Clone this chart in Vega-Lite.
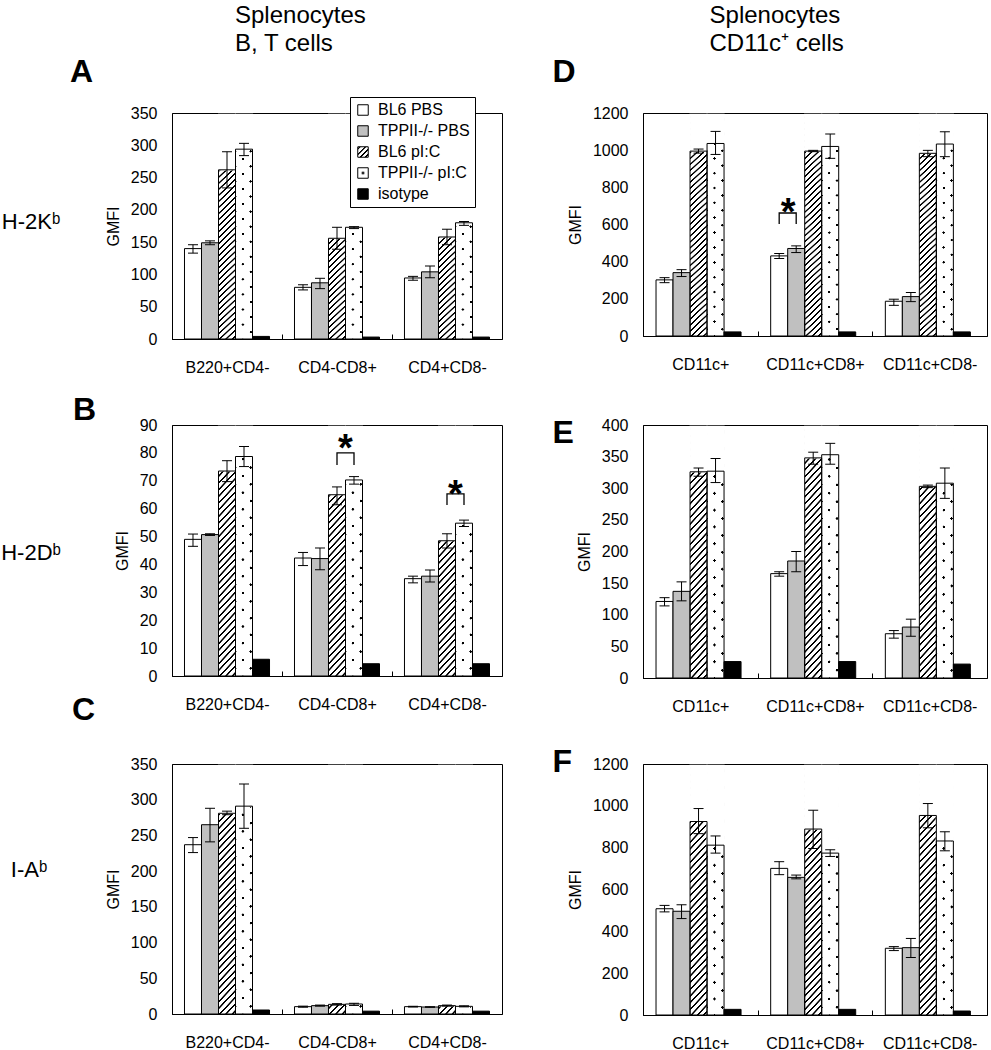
{
"$schema":"https://vega.github.io/schema/vega-lite/v6.json",
"padding":{"top":3,"left":0,"right":0,"bottom":0},
"background":"white",
"params":[
 {"name":"hatchG","value":{"gradient":"linear","x1":0,"y1":0,"x2":0.0774,"y2":1.067,"stops":[
{"offset":0.007,"color":"#fff"},{"offset":0.009,"color":"#000"},{"offset":0.015,"color":"#000"},{"offset":0.017,"color":"#fff"},
{"offset":0.032,"color":"#fff"},{"offset":0.034,"color":"#000"},{"offset":0.040,"color":"#000"},{"offset":0.042,"color":"#fff"},
{"offset":0.057,"color":"#fff"},{"offset":0.059,"color":"#000"},{"offset":0.065,"color":"#000"},{"offset":0.067,"color":"#fff"},
{"offset":0.082,"color":"#fff"},{"offset":0.084,"color":"#000"},{"offset":0.090,"color":"#000"},{"offset":0.092,"color":"#fff"},
{"offset":0.107,"color":"#fff"},{"offset":0.109,"color":"#000"},{"offset":0.115,"color":"#000"},{"offset":0.117,"color":"#fff"},
{"offset":0.132,"color":"#fff"},{"offset":0.134,"color":"#000"},{"offset":0.140,"color":"#000"},{"offset":0.142,"color":"#fff"},
{"offset":0.157,"color":"#fff"},{"offset":0.159,"color":"#000"},{"offset":0.165,"color":"#000"},{"offset":0.167,"color":"#fff"},
{"offset":0.182,"color":"#fff"},{"offset":0.184,"color":"#000"},{"offset":0.190,"color":"#000"},{"offset":0.192,"color":"#fff"},
{"offset":0.207,"color":"#fff"},{"offset":0.209,"color":"#000"},{"offset":0.215,"color":"#000"},{"offset":0.217,"color":"#fff"},
{"offset":0.232,"color":"#fff"},{"offset":0.234,"color":"#000"},{"offset":0.240,"color":"#000"},{"offset":0.242,"color":"#fff"},
{"offset":0.257,"color":"#fff"},{"offset":0.259,"color":"#000"},{"offset":0.265,"color":"#000"},{"offset":0.267,"color":"#fff"},
{"offset":0.282,"color":"#fff"},{"offset":0.284,"color":"#000"},{"offset":0.290,"color":"#000"},{"offset":0.292,"color":"#fff"},
{"offset":0.307,"color":"#fff"},{"offset":0.309,"color":"#000"},{"offset":0.315,"color":"#000"},{"offset":0.317,"color":"#fff"},
{"offset":0.332,"color":"#fff"},{"offset":0.334,"color":"#000"},{"offset":0.340,"color":"#000"},{"offset":0.342,"color":"#fff"},
{"offset":0.357,"color":"#fff"},{"offset":0.359,"color":"#000"},{"offset":0.365,"color":"#000"},{"offset":0.367,"color":"#fff"},
{"offset":0.382,"color":"#fff"},{"offset":0.384,"color":"#000"},{"offset":0.390,"color":"#000"},{"offset":0.392,"color":"#fff"},
{"offset":0.407,"color":"#fff"},{"offset":0.409,"color":"#000"},{"offset":0.415,"color":"#000"},{"offset":0.417,"color":"#fff"},
{"offset":0.432,"color":"#fff"},{"offset":0.434,"color":"#000"},{"offset":0.440,"color":"#000"},{"offset":0.442,"color":"#fff"},
{"offset":0.457,"color":"#fff"},{"offset":0.459,"color":"#000"},{"offset":0.465,"color":"#000"},{"offset":0.467,"color":"#fff"},
{"offset":0.482,"color":"#fff"},{"offset":0.484,"color":"#000"},{"offset":0.490,"color":"#000"},{"offset":0.492,"color":"#fff"},
{"offset":0.507,"color":"#fff"},{"offset":0.509,"color":"#000"},{"offset":0.515,"color":"#000"},{"offset":0.517,"color":"#fff"},
{"offset":0.532,"color":"#fff"},{"offset":0.534,"color":"#000"},{"offset":0.540,"color":"#000"},{"offset":0.542,"color":"#fff"},
{"offset":0.557,"color":"#fff"},{"offset":0.559,"color":"#000"},{"offset":0.565,"color":"#000"},{"offset":0.567,"color":"#fff"},
{"offset":0.582,"color":"#fff"},{"offset":0.584,"color":"#000"},{"offset":0.590,"color":"#000"},{"offset":0.592,"color":"#fff"},
{"offset":0.607,"color":"#fff"},{"offset":0.609,"color":"#000"},{"offset":0.615,"color":"#000"},{"offset":0.617,"color":"#fff"},
{"offset":0.632,"color":"#fff"},{"offset":0.634,"color":"#000"},{"offset":0.640,"color":"#000"},{"offset":0.642,"color":"#fff"},
{"offset":0.657,"color":"#fff"},{"offset":0.659,"color":"#000"},{"offset":0.665,"color":"#000"},{"offset":0.667,"color":"#fff"},
{"offset":0.682,"color":"#fff"},{"offset":0.684,"color":"#000"},{"offset":0.690,"color":"#000"},{"offset":0.692,"color":"#fff"},
{"offset":0.707,"color":"#fff"},{"offset":0.709,"color":"#000"},{"offset":0.715,"color":"#000"},{"offset":0.717,"color":"#fff"},
{"offset":0.732,"color":"#fff"},{"offset":0.734,"color":"#000"},{"offset":0.740,"color":"#000"},{"offset":0.742,"color":"#fff"},
{"offset":0.757,"color":"#fff"},{"offset":0.759,"color":"#000"},{"offset":0.765,"color":"#000"},{"offset":0.767,"color":"#fff"},
{"offset":0.782,"color":"#fff"},{"offset":0.784,"color":"#000"},{"offset":0.790,"color":"#000"},{"offset":0.792,"color":"#fff"},
{"offset":0.807,"color":"#fff"},{"offset":0.809,"color":"#000"},{"offset":0.815,"color":"#000"},{"offset":0.817,"color":"#fff"},
{"offset":0.832,"color":"#fff"},{"offset":0.834,"color":"#000"},{"offset":0.840,"color":"#000"},{"offset":0.842,"color":"#fff"},
{"offset":0.857,"color":"#fff"},{"offset":0.859,"color":"#000"},{"offset":0.865,"color":"#000"},{"offset":0.867,"color":"#fff"},
{"offset":0.882,"color":"#fff"},{"offset":0.884,"color":"#000"},{"offset":0.890,"color":"#000"},{"offset":0.892,"color":"#fff"},
{"offset":0.907,"color":"#fff"},{"offset":0.909,"color":"#000"},{"offset":0.915,"color":"#000"},{"offset":0.917,"color":"#fff"},
{"offset":0.932,"color":"#fff"},{"offset":0.934,"color":"#000"},{"offset":0.940,"color":"#000"},{"offset":0.942,"color":"#fff"},
{"offset":0.957,"color":"#fff"},{"offset":0.959,"color":"#000"},{"offset":0.965,"color":"#000"},{"offset":0.967,"color":"#fff"},
{"offset":0.982,"color":"#fff"},{"offset":0.984,"color":"#000"},{"offset":0.990,"color":"#000"},{"offset":0.992,"color":"#fff"}
 ]}},
 {"name":"dotAG","value":{"gradient":"linear","x1":0,"y1":0,"x2":0.0774,"y2":1.067,"stops":[
{"offset":0.02,"color":"#fff"},{"offset":0.022,"color":"#000"},{"offset":0.032,"color":"#000"},{"offset":0.034,"color":"#fff"},
{"offset":0.0825,"color":"#fff"},{"offset":0.0845,"color":"#000"},{"offset":0.0945,"color":"#000"},{"offset":0.0965,"color":"#fff"},
{"offset":0.145,"color":"#fff"},{"offset":0.147,"color":"#000"},{"offset":0.157,"color":"#000"},{"offset":0.159,"color":"#fff"},
{"offset":0.2075,"color":"#fff"},{"offset":0.2095,"color":"#000"},{"offset":0.2195,"color":"#000"},{"offset":0.2215,"color":"#fff"},
{"offset":0.27,"color":"#fff"},{"offset":0.272,"color":"#000"},{"offset":0.282,"color":"#000"},{"offset":0.284,"color":"#fff"},
{"offset":0.3325,"color":"#fff"},{"offset":0.3345,"color":"#000"},{"offset":0.3445,"color":"#000"},{"offset":0.3465,"color":"#fff"},
{"offset":0.395,"color":"#fff"},{"offset":0.397,"color":"#000"},{"offset":0.407,"color":"#000"},{"offset":0.409,"color":"#fff"},
{"offset":0.4575,"color":"#fff"},{"offset":0.4595,"color":"#000"},{"offset":0.4695,"color":"#000"},{"offset":0.4715,"color":"#fff"},
{"offset":0.52,"color":"#fff"},{"offset":0.522,"color":"#000"},{"offset":0.532,"color":"#000"},{"offset":0.534,"color":"#fff"},
{"offset":0.5825,"color":"#fff"},{"offset":0.5845,"color":"#000"},{"offset":0.5945,"color":"#000"},{"offset":0.5965,"color":"#fff"},
{"offset":0.645,"color":"#fff"},{"offset":0.647,"color":"#000"},{"offset":0.657,"color":"#000"},{"offset":0.659,"color":"#fff"},
{"offset":0.7075,"color":"#fff"},{"offset":0.7095,"color":"#000"},{"offset":0.7195,"color":"#000"},{"offset":0.7215,"color":"#fff"},
{"offset":0.77,"color":"#fff"},{"offset":0.772,"color":"#000"},{"offset":0.782,"color":"#000"},{"offset":0.784,"color":"#fff"},
{"offset":0.8325,"color":"#fff"},{"offset":0.8345,"color":"#000"},{"offset":0.8445,"color":"#000"},{"offset":0.8465,"color":"#fff"},
{"offset":0.895,"color":"#fff"},{"offset":0.897,"color":"#000"},{"offset":0.907,"color":"#000"},{"offset":0.909,"color":"#fff"},
{"offset":0.9575,"color":"#fff"},{"offset":0.9595,"color":"#000"},{"offset":0.9695,"color":"#000"},{"offset":0.9715,"color":"#fff"}
 ]}},
 {"name":"dotBG","value":{"gradient":"linear","x1":0,"y1":1,"x2":0.0774,"y2":-0.067,"stops":[
{"offset":0.02,"color":"#fff"},{"offset":0.022,"color":"rgba(255,255,255,0)"},{"offset":0.032,"color":"rgba(255,255,255,0)"},{"offset":0.034,"color":"#fff"},
{"offset":0.0825,"color":"#fff"},{"offset":0.0845,"color":"rgba(255,255,255,0)"},{"offset":0.0945,"color":"rgba(255,255,255,0)"},{"offset":0.0965,"color":"#fff"},
{"offset":0.145,"color":"#fff"},{"offset":0.147,"color":"rgba(255,255,255,0)"},{"offset":0.157,"color":"rgba(255,255,255,0)"},{"offset":0.159,"color":"#fff"},
{"offset":0.2075,"color":"#fff"},{"offset":0.2095,"color":"rgba(255,255,255,0)"},{"offset":0.2195,"color":"rgba(255,255,255,0)"},{"offset":0.2215,"color":"#fff"},
{"offset":0.27,"color":"#fff"},{"offset":0.272,"color":"rgba(255,255,255,0)"},{"offset":0.282,"color":"rgba(255,255,255,0)"},{"offset":0.284,"color":"#fff"},
{"offset":0.3325,"color":"#fff"},{"offset":0.3345,"color":"rgba(255,255,255,0)"},{"offset":0.3445,"color":"rgba(255,255,255,0)"},{"offset":0.3465,"color":"#fff"},
{"offset":0.395,"color":"#fff"},{"offset":0.397,"color":"rgba(255,255,255,0)"},{"offset":0.407,"color":"rgba(255,255,255,0)"},{"offset":0.409,"color":"#fff"},
{"offset":0.4575,"color":"#fff"},{"offset":0.4595,"color":"rgba(255,255,255,0)"},{"offset":0.4695,"color":"rgba(255,255,255,0)"},{"offset":0.4715,"color":"#fff"},
{"offset":0.52,"color":"#fff"},{"offset":0.522,"color":"rgba(255,255,255,0)"},{"offset":0.532,"color":"rgba(255,255,255,0)"},{"offset":0.534,"color":"#fff"},
{"offset":0.5825,"color":"#fff"},{"offset":0.5845,"color":"rgba(255,255,255,0)"},{"offset":0.5945,"color":"rgba(255,255,255,0)"},{"offset":0.5965,"color":"#fff"},
{"offset":0.645,"color":"#fff"},{"offset":0.647,"color":"rgba(255,255,255,0)"},{"offset":0.657,"color":"rgba(255,255,255,0)"},{"offset":0.659,"color":"#fff"},
{"offset":0.7075,"color":"#fff"},{"offset":0.7095,"color":"rgba(255,255,255,0)"},{"offset":0.7195,"color":"rgba(255,255,255,0)"},{"offset":0.7215,"color":"#fff"},
{"offset":0.77,"color":"#fff"},{"offset":0.772,"color":"rgba(255,255,255,0)"},{"offset":0.782,"color":"rgba(255,255,255,0)"},{"offset":0.784,"color":"#fff"},
{"offset":0.8325,"color":"#fff"},{"offset":0.8345,"color":"rgba(255,255,255,0)"},{"offset":0.8445,"color":"rgba(255,255,255,0)"},{"offset":0.8465,"color":"#fff"},
{"offset":0.895,"color":"#fff"},{"offset":0.897,"color":"rgba(255,255,255,0)"},{"offset":0.907,"color":"rgba(255,255,255,0)"},{"offset":0.909,"color":"#fff"},
{"offset":0.9575,"color":"#fff"},{"offset":0.9595,"color":"rgba(255,255,255,0)"},{"offset":0.9695,"color":"rgba(255,255,255,0)"},{"offset":0.9715,"color":"#fff"}
 ]}},
 {"name":"hatchS","value":{"gradient":"linear","x1":0,"y1":0,"x2":1,"y2":1,"stops":[{"offset":0.06,"color":"#fff"},{"offset":0.08,"color":"#000"},{"offset":0.15,"color":"#000"},{"offset":0.17,"color":"#fff"},{"offset":0.31,"color":"#fff"},{"offset":0.33,"color":"#000"},{"offset":0.4,"color":"#000"},{"offset":0.42,"color":"#fff"},{"offset":0.56,"color":"#fff"},{"offset":0.58,"color":"#000"},{"offset":0.65,"color":"#000"},{"offset":0.67,"color":"#fff"},{"offset":0.81,"color":"#fff"},{"offset":0.83,"color":"#000"},{"offset":0.9,"color":"#000"},{"offset":0.92,"color":"#fff"}]}},
 {"name":"dotS","value":{"gradient":"radial","x1":0.5,"y1":0.5,"r1":0,"x2":0.5,"y2":0.5,"r2":0.5,"stops":[{"offset":0,"color":"#000"},{"offset":0.2,"color":"#000"},{"offset":0.3,"color":"#fff"},{"offset":1,"color":"#fff"}]}}
],
"config":{
 "font":"Liberation Sans",
 "view":{"stroke":"#000","strokeWidth":1},
 "axis":{"grid":false,"domainColor":"#000","domainWidth":1,"labelColor":"#000","labelFont":"Liberation Sans","titleFont":"Liberation Sans","titleColor":"#000","titleFontWeight":"normal","tickColor":"#000","tickWidth":1},
 "axisY":{"ticks":false,"labelFontSize":16,"labelPadding":15,"titleFontSize":16,"titlePadding":9,"format":"d"},
 "axisX":{"labelAngle":0,"labelFontSize":16,"labelPadding":25,"tickSize":-5},
 "legend":{"labelFont":"Liberation Sans"}
},
"datasets":{
 "A":[
  {"group":"B220+CD4-","cond":"BL6 PBS","value":140,"lo":133,"hi":146},
  {"group":"B220+CD4-","cond":"TPPII-/- PBS","value":149,"lo":146,"hi":152},
  {"group":"B220+CD4-","cond":"BL6 pI:C","value":262,"lo":234,"hi":290},
  {"group":"B220+CD4-","cond":"TPPII-/- pI:C","value":294,"lo":284,"hi":303},
  {"group":"B220+CD4-","cond":"isotype","value":4},
  {"group":"CD4-CD8+","cond":"BL6 PBS","value":80,"lo":76,"hi":84},
  {"group":"CD4-CD8+","cond":"TPPII-/- PBS","value":87,"lo":78,"hi":94},
  {"group":"CD4-CD8+","cond":"BL6 pI:C","value":156,"lo":139,"hi":173},
  {"group":"CD4-CD8+","cond":"TPPII-/- pI:C","value":173,"lo":171,"hi":174},
  {"group":"CD4-CD8+","cond":"isotype","value":3},
  {"group":"CD4+CD8-","cond":"BL6 PBS","value":94.5,"lo":91,"hi":97},
  {"group":"CD4+CD8-","cond":"TPPII-/- PBS","value":104,"lo":95,"hi":113},
  {"group":"CD4+CD8-","cond":"BL6 pI:C","value":158,"lo":146,"hi":170},
  {"group":"CD4+CD8-","cond":"TPPII-/- pI:C","value":180,"lo":176,"hi":182},
  {"group":"CD4+CD8-","cond":"isotype","value":3}
 ],
 "B":[
  {"group":"B220+CD4-","cond":"BL6 PBS","value":49,"lo":46.5,"hi":50.9},
  {"group":"B220+CD4-","cond":"TPPII-/- PBS","value":50.7,"lo":50.4,"hi":51},
  {"group":"B220+CD4-","cond":"BL6 pI:C","value":73.5,"lo":69.7,"hi":77.2},
  {"group":"B220+CD4-","cond":"TPPII-/- pI:C","value":78.7,"lo":75.1,"hi":82.3},
  {"group":"B220+CD4-","cond":"isotype","value":6},
  {"group":"CD4-CD8+","cond":"BL6 PBS","value":42.3,"lo":39.6,"hi":44.3},
  {"group":"CD4-CD8+","cond":"TPPII-/- PBS","value":42.1,"lo":38.1,"hi":45.9},
  {"group":"CD4-CD8+","cond":"BL6 pI:C","value":65,"lo":61.4,"hi":67.8},
  {"group":"CD4-CD8+","cond":"TPPII-/- pI:C","value":70.3,"lo":68.8,"hi":71.5},
  {"group":"CD4-CD8+","cond":"isotype","value":4.4},
  {"group":"CD4+CD8-","cond":"BL6 PBS","value":34.9,"lo":33.4,"hi":35.8},
  {"group":"CD4+CD8-","cond":"TPPII-/- PBS","value":35.8,"lo":33.7,"hi":38},
  {"group":"CD4+CD8-","cond":"BL6 pI:C","value":48.5,"lo":45.9,"hi":51},
  {"group":"CD4+CD8-","cond":"TPPII-/- pI:C","value":54.8,"lo":53.6,"hi":55.9},
  {"group":"CD4+CD8-","cond":"isotype","value":4.4}
 ],
 "C":[
  {"group":"B220+CD4-","cond":"BL6 PBS","value":237,"lo":226,"hi":247},
  {"group":"B220+CD4-","cond":"TPPII-/- PBS","value":265,"lo":241,"hi":288},
  {"group":"B220+CD4-","cond":"BL6 pI:C","value":281,"lo":279,"hi":284},
  {"group":"B220+CD4-","cond":"TPPII-/- pI:C","value":291,"lo":260,"hi":322},
  {"group":"B220+CD4-","cond":"isotype","value":5.6},
  {"group":"CD4-CD8+","cond":"BL6 PBS","value":10.3,"lo":9.5,"hi":11},
  {"group":"CD4-CD8+","cond":"TPPII-/- PBS","value":11.7,"lo":11,"hi":12.5},
  {"group":"CD4-CD8+","cond":"BL6 pI:C","value":13.5,"lo":12.5,"hi":14.5},
  {"group":"CD4-CD8+","cond":"TPPII-/- pI:C","value":14,"lo":12,"hi":15},
  {"group":"CD4-CD8+","cond":"isotype","value":4},
  {"group":"CD4+CD8-","cond":"BL6 PBS","value":10.3,"lo":9.8,"hi":10.8},
  {"group":"CD4+CD8-","cond":"TPPII-/- PBS","value":9.8,"lo":9.3,"hi":10.3},
  {"group":"CD4+CD8-","cond":"BL6 pI:C","value":11.7,"lo":11,"hi":12.5},
  {"group":"CD4+CD8-","cond":"TPPII-/- pI:C","value":10.7,"lo":10,"hi":11.5},
  {"group":"CD4+CD8-","cond":"isotype","value":4}
 ],
 "D":[
  {"group":"CD11c+","cond":"BL6 PBS","value":302,"lo":287,"hi":314},
  {"group":"CD11c+","cond":"TPPII-/- PBS","value":341,"lo":320,"hi":357},
  {"group":"CD11c+","cond":"BL6 pI:C","value":995,"lo":984,"hi":1006},
  {"group":"CD11c+","cond":"TPPII-/- pI:C","value":1036,"lo":977,"hi":1101},
  {"group":"CD11c+","cond":"isotype","value":22},
  {"group":"CD11c+CD8+","cond":"BL6 PBS","value":431,"lo":417,"hi":444},
  {"group":"CD11c+CD8+","cond":"TPPII-/- PBS","value":471,"lo":449,"hi":485},
  {"group":"CD11c+CD8+","cond":"BL6 pI:C","value":995,"lo":992,"hi":999},
  {"group":"CD11c+CD8+","cond":"TPPII-/- pI:C","value":1020,"lo":956,"hi":1087},
  {"group":"CD11c+CD8+","cond":"isotype","value":22},
  {"group":"CD11c+CD8-","cond":"BL6 PBS","value":187,"lo":165,"hi":198},
  {"group":"CD11c+CD8-","cond":"TPPII-/- PBS","value":212,"lo":185,"hi":234},
  {"group":"CD11c+CD8-","cond":"BL6 pI:C","value":983,"lo":965,"hi":999},
  {"group":"CD11c+CD8-","cond":"TPPII-/- pI:C","value":1033,"lo":965,"hi":1099},
  {"group":"CD11c+CD8-","cond":"isotype","value":22}
 ],
 "E":[
  {"group":"CD11c+","cond":"BL6 PBS","value":121,"lo":114,"hi":127},
  {"group":"CD11c+","cond":"TPPII-/- PBS","value":137,"lo":122,"hi":152},
  {"group":"CD11c+","cond":"BL6 pI:C","value":326,"lo":319,"hi":332},
  {"group":"CD11c+","cond":"TPPII-/- pI:C","value":327,"lo":309,"hi":347},
  {"group":"CD11c+","cond":"isotype","value":26},
  {"group":"CD11c+CD8+","cond":"BL6 PBS","value":165,"lo":161,"hi":168},
  {"group":"CD11c+CD8+","cond":"TPPII-/- PBS","value":185,"lo":168,"hi":200},
  {"group":"CD11c+CD8+","cond":"BL6 pI:C","value":348,"lo":338,"hi":357},
  {"group":"CD11c+CD8+","cond":"TPPII-/- pI:C","value":353,"lo":338,"hi":371},
  {"group":"CD11c+CD8+","cond":"isotype","value":26},
  {"group":"CD11c+CD8-","cond":"BL6 PBS","value":70,"lo":63,"hi":75},
  {"group":"CD11c+CD8-","cond":"TPPII-/- PBS","value":80.5,"lo":66,"hi":93},
  {"group":"CD11c+CD8-","cond":"BL6 pI:C","value":303,"lo":301,"hi":305},
  {"group":"CD11c+CD8-","cond":"TPPII-/- pI:C","value":308,"lo":284,"hi":332},
  {"group":"CD11c+CD8-","cond":"isotype","value":22}
 ],
 "F":[
  {"group":"CD11c+","cond":"BL6 PBS","value":508,"lo":493,"hi":524},
  {"group":"CD11c+","cond":"TPPII-/- PBS","value":496,"lo":461,"hi":527},
  {"group":"CD11c+","cond":"BL6 pI:C","value":925,"lo":867,"hi":987},
  {"group":"CD11c+","cond":"TPPII-/- pI:C","value":812,"lo":774,"hi":856},
  {"group":"CD11c+","cond":"isotype","value":27},
  {"group":"CD11c+CD8+","cond":"BL6 PBS","value":701,"lo":671,"hi":733},
  {"group":"CD11c+CD8+","cond":"TPPII-/- PBS","value":658,"lo":651,"hi":669},
  {"group":"CD11c+CD8+","cond":"BL6 pI:C","value":889,"lo":796,"hi":979},
  {"group":"CD11c+CD8+","cond":"TPPII-/- pI:C","value":774,"lo":758,"hi":790},
  {"group":"CD11c+CD8+","cond":"isotype","value":27},
  {"group":"CD11c+CD8-","cond":"BL6 PBS","value":319,"lo":308,"hi":327},
  {"group":"CD11c+CD8-","cond":"TPPII-/- PBS","value":322,"lo":275,"hi":366},
  {"group":"CD11c+CD8-","cond":"BL6 pI:C","value":954,"lo":895,"hi":1011},
  {"group":"CD11c+CD8-","cond":"TPPII-/- pI:C","value":832,"lo":785,"hi":876},
  {"group":"CD11c+CD8-","cond":"isotype","value":19}
 ],
 "Bbr":[
  {"id":"b1","group":"CD4-CD8+","cond":"BL6 pI:C","y":75.7,"ord":1},
  {"id":"b1","group":"CD4-CD8+","cond":"BL6 pI:C","y":80,"ord":2},
  {"id":"b1","group":"CD4-CD8+","cond":"TPPII-/- pI:C","y":80,"ord":3},
  {"id":"b1","group":"CD4-CD8+","cond":"TPPII-/- pI:C","y":75.7,"ord":4},
  {"id":"b2","group":"CD4+CD8-","cond":"BL6 pI:C","y":61.3,"ord":1},
  {"id":"b2","group":"CD4+CD8-","cond":"BL6 pI:C","y":65.3,"ord":2},
  {"id":"b2","group":"CD4+CD8-","cond":"TPPII-/- pI:C","y":65.3,"ord":3},
  {"id":"b2","group":"CD4+CD8-","cond":"TPPII-/- pI:C","y":61.3,"ord":4}
 ],
 "Bst":[
  {"group":"CD4-CD8+","cond":"BL6 pI:C","y":84.6},
  {"group":"CD4+CD8-","cond":"BL6 pI:C","y":68.1}
 ],
 "Dbr":[
  {"id":"d1","group":"CD11c+CD8+","cond":"BL6 PBS","y":603,"ord":1},
  {"id":"d1","group":"CD11c+CD8+","cond":"BL6 PBS","y":662,"ord":2},
  {"id":"d1","group":"CD11c+CD8+","cond":"TPPII-/- PBS","y":662,"ord":3},
  {"id":"d1","group":"CD11c+CD8+","cond":"TPPII-/- PBS","y":603,"ord":4}
 ],
 "Dst":[
  {"group":"CD11c+CD8+","cond":"BL6 PBS","y":710}
 ]
},
"columns":2,
"spacing":{"row":86,"column":141},
"bounds":"flush",
"resolve":{"scale":{"fill":"independent"}},
"concat":[
 {"width":330,"height":226,"data":{"name":"A"},
  "encoding":{
   "x":{"field":"group","type":"nominal","sort":["B220+CD4-","CD4-CD8+","CD4+CD8-"],"scale":{"paddingInner":0.227,"paddingOuter":0.1136},"axis":{"tickOffset":-55,"labelOffset":55},"title":null},
   "xOffset":{"field":"cond","type":"nominal","sort":null,"scale":{"domain":["BL6 PBS","TPPII-/- PBS","BL6 pI:C","TPPII-/- pI:C","isotype"],"paddingInner":0,"paddingOuter":0}}
  },
  "layer":[
   {"transform":[{"filter":"datum.cond === 'BL6 pI:C'"}],"mark":{"type":"bar","fill":{"expr":"hatchG"},"opacity":1},"encoding":{"y":{"datum":348,"type":"quantitative","scale":{"domain":[0,350],"nice":false},"title":"GMFI"},"y2":{"datum":0}}},
   {"transform":[{"filter":"datum.cond === 'TPPII-/- pI:C'"}],"mark":{"type":"bar","fill":{"expr":"dotAG"},"opacity":1},"encoding":{"y":{"datum":348,"type":"quantitative","scale":{"domain":[0,350],"nice":false},"title":"GMFI"},"y2":{"datum":0}}},
   {"transform":[{"filter":"datum.cond === 'TPPII-/- pI:C'"}],"mark":{"type":"bar","fill":{"expr":"dotBG"},"opacity":1},"encoding":{"y":{"datum":348,"type":"quantitative","scale":{"domain":[0,350],"nice":false},"title":"GMFI"},"y2":{"datum":0}}},
   {"transform":[{"filter":"datum.cond === 'BL6 pI:C' || datum.cond === 'TPPII-/- pI:C'"}],"mark":{"type":"bar","fill":"#fff","stroke":"#fff","strokeWidth":1.2,"opacity":1},"encoding":{"y":{"field":"value","type":"quantitative","scale":{"domain":[0,350],"nice":false},"title":"GMFI"},"y2":{"datum":348}}},
   {"transform":[{"filter":"datum.cond !== 'BL6 pI:C' && datum.cond !== 'TPPII-/- pI:C'"}],"mark":{"type":"bar","stroke":"#000","strokeWidth":1,"opacity":1},"encoding":{"y":{"field":"value","type":"quantitative","stack":null,"scale":{"domain":[0,350],"nice":false},"title":"GMFI","axis":{"tickCount":7}},
     "fill":{"field":"cond","type":"nominal","scale":{"domain":["BL6 PBS","TPPII-/- PBS","BL6 pI:C","TPPII-/- pI:C","isotype"],"range":["#fff","#c0c0c0",{"expr":"hatchS"},{"expr":"dotS"},"#000"]},
       "legend":{"orient":"none","legendX":178,"legendY":-16,"title":null,"symbolType":"square","symbolSize":110,"symbolStrokeColor":"#000","symbolStrokeWidth":1,"symbolOpacity":1,"labelFontSize":16,"labelColor":"#000","labelOffset":7,"rowPadding":5,"padding":5,"strokeColor":"#000","fillColor":"#fff"}}}},
   {"transform":[{"filter":"datum.cond === 'BL6 pI:C' || datum.cond === 'TPPII-/- pI:C'"}],"mark":{"type":"bar","fill":"transparent","stroke":"#000","strokeWidth":1,"opacity":1},"encoding":{"y":{"field":"value","type":"quantitative","stack":null,"scale":{"domain":[0,350],"nice":false},"title":"GMFI"}}},
   {"transform":[{"filter":"datum.cond !== 'isotype'"}],"mark":{"type":"rule","color":"#000","strokeWidth":1,"opacity":1},"encoding":{"y":{"field":"lo","type":"quantitative","scale":{"domain":[0,350],"nice":false},"title":"GMFI"},"y2":{"field":"hi"}}},
   {"transform":[{"filter":"datum.cond !== 'isotype'"}],"mark":{"type":"tick","color":"#000","thickness":1,"size":10,"opacity":1},"encoding":{"y":{"field":"lo","type":"quantitative","scale":{"domain":[0,350],"nice":false},"title":"GMFI"}}},
   {"transform":[{"filter":"datum.cond !== 'isotype'"}],"mark":{"type":"tick","color":"#000","thickness":1,"size":10,"opacity":1},"encoding":{"y":{"field":"hi","type":"quantitative","scale":{"domain":[0,350],"nice":false},"title":"GMFI"}}},
   {"data":{"values":[{}]},"mark":{"type":"text","text":"A","fontSize":32,"fontWeight":"bold","align":"left","baseline":"alphabetic","dx":-123,"dy":-31,"color":"#000"},"encoding":{"x":{"datum":"B220+CD4-","type":"nominal"},"xOffset":{"datum":"BL6 PBS","type":"nominal"},"y":{"datum":350,"type":"quantitative","scale":{"domain":[0,350],"nice":false},"title":"GMFI"}}},
   {"data":{"values":[{}]},"mark":{"type":"text","text":["Splenocytes","B, T cells"],"fontSize":24,"lineHeight":28,"align":"left","baseline":"alphabetic","dx":42,"dy":-90,"color":"#000"},"encoding":{"x":{"datum":"B220+CD4-","type":"nominal"},"xOffset":{"datum":"BL6 PBS","type":"nominal"},"y":{"datum":350,"type":"quantitative","scale":{"domain":[0,350],"nice":false},"title":"GMFI"}}},
   {"data":{"values":[{}]},"mark":{"type":"text","text":"H-2Kᵇ","fontSize":22,"align":"center","baseline":"middle","dx":-162,"dy":-4,"color":"#000"},"encoding":{"x":{"datum":"B220+CD4-","type":"nominal"},"xOffset":{"datum":"BL6 PBS","type":"nominal"},"y":{"datum":175,"type":"quantitative","scale":{"domain":[0,350],"nice":false},"title":"GMFI"}}}
  ]},
 {"width":344,"height":223,"data":{"name":"D"},
  "encoding":{
   "x":{"field":"group","type":"nominal","sort":["CD11c+","CD11c+CD8+","CD11c+CD8-"],"scale":{"paddingInner":0.227,"paddingOuter":0.1136},"axis":{"tickOffset":-57.33,"labelOffset":57.33},"title":null},
   "xOffset":{"field":"cond","type":"nominal","sort":null,"scale":{"domain":["BL6 PBS","TPPII-/- PBS","BL6 pI:C","TPPII-/- pI:C","isotype"],"paddingInner":0,"paddingOuter":0}}
  },
  "layer":[
   {"transform":[{"filter":"datum.cond === 'BL6 pI:C'"}],"mark":{"type":"bar","fill":{"expr":"hatchG"},"opacity":1},"encoding":{"y":{"datum":1193,"type":"quantitative","scale":{"domain":[0,1200],"nice":false},"title":"GMFI"},"y2":{"datum":0}}},
   {"transform":[{"filter":"datum.cond === 'TPPII-/- pI:C'"}],"mark":{"type":"bar","fill":{"expr":"dotAG"},"opacity":1},"encoding":{"y":{"datum":1193,"type":"quantitative","scale":{"domain":[0,1200],"nice":false},"title":"GMFI"},"y2":{"datum":0}}},
   {"transform":[{"filter":"datum.cond === 'TPPII-/- pI:C'"}],"mark":{"type":"bar","fill":{"expr":"dotBG"},"opacity":1},"encoding":{"y":{"datum":1193,"type":"quantitative","scale":{"domain":[0,1200],"nice":false},"title":"GMFI"},"y2":{"datum":0}}},
   {"transform":[{"filter":"datum.cond === 'BL6 pI:C' || datum.cond === 'TPPII-/- pI:C'"}],"mark":{"type":"bar","fill":"#fff","stroke":"#fff","strokeWidth":1.2,"opacity":1},"encoding":{"y":{"field":"value","type":"quantitative","scale":{"domain":[0,1200],"nice":false},"title":"GMFI"},"y2":{"datum":1193}}},
   {"mark":{"type":"bar","stroke":"#000","strokeWidth":1,"opacity":1},"encoding":{"y":{"field":"value","type":"quantitative","stack":null,"scale":{"domain":[0,1200],"nice":false},"title":"GMFI","axis":{"tickCount":6}},
     "fill":{"field":"cond","type":"nominal","scale":{"domain":["BL6 PBS","TPPII-/- PBS","BL6 pI:C","TPPII-/- pI:C","isotype"],"range":["#fff","#c0c0c0","transparent","transparent","#000"]},"legend":null}}},
   {"transform":[{"filter":"datum.cond !== 'isotype'"}],"mark":{"type":"rule","color":"#000","strokeWidth":1,"opacity":1},"encoding":{"y":{"field":"lo","type":"quantitative","scale":{"domain":[0,1200],"nice":false},"title":"GMFI"},"y2":{"field":"hi"}}},
   {"transform":[{"filter":"datum.cond !== 'isotype'"}],"mark":{"type":"tick","color":"#000","thickness":1,"size":10,"opacity":1},"encoding":{"y":{"field":"lo","type":"quantitative","scale":{"domain":[0,1200],"nice":false},"title":"GMFI"}}},
   {"transform":[{"filter":"datum.cond !== 'isotype'"}],"mark":{"type":"tick","color":"#000","thickness":1,"size":10,"opacity":1},"encoding":{"y":{"field":"hi","type":"quantitative","scale":{"domain":[0,1200],"nice":false},"title":"GMFI"}}},
   {"data":{"name":"Dbr"},"mark":{"type":"line","color":"#000","strokeWidth":1.3,"opacity":1},"encoding":{"y":{"field":"y","type":"quantitative","scale":{"domain":[0,1200],"nice":false},"title":"GMFI"},"order":{"field":"ord","type":"quantitative"},"detail":{"field":"id","type":"nominal"}}},
   {"data":{"name":"Dst"},"mark":{"type":"text","text":"*","fontSize":38,"fontWeight":"bold","dx":8.86,"dy":21,"baseline":"alphabetic","color":"#000","opacity":1},"encoding":{"y":{"field":"y","type":"quantitative","scale":{"domain":[0,1200],"nice":false},"title":"GMFI"}}},
   {"data":{"values":[{}]},"mark":{"type":"text","text":"D","fontSize":32,"fontWeight":"bold","align":"left","baseline":"alphabetic","dx":-112,"dy":-31,"color":"#000"},"encoding":{"x":{"datum":"CD11c+","type":"nominal"},"xOffset":{"datum":"BL6 PBS","type":"nominal"},"y":{"datum":1200,"type":"quantitative","scale":{"domain":[0,1200],"nice":false},"title":"GMFI"}}},
   {"data":{"values":[{}]},"mark":{"type":"text","text":["Splenocytes","CD11c⁺ cells"],"fontSize":24,"lineHeight":28,"align":"left","baseline":"alphabetic","dx":45,"dy":-90,"color":"#000"},"encoding":{"x":{"datum":"CD11c+","type":"nominal"},"xOffset":{"datum":"BL6 PBS","type":"nominal"},"y":{"datum":1200,"type":"quantitative","scale":{"domain":[0,1200],"nice":false},"title":"GMFI"}}}
  ]},
 {"width":330,"height":251,"data":{"name":"B"},
  "encoding":{
   "x":{"field":"group","type":"nominal","sort":["B220+CD4-","CD4-CD8+","CD4+CD8-"],"scale":{"paddingInner":0.227,"paddingOuter":0.1136},"axis":{"tickOffset":-55,"labelOffset":55},"title":null},
   "xOffset":{"field":"cond","type":"nominal","sort":null,"scale":{"domain":["BL6 PBS","TPPII-/- PBS","BL6 pI:C","TPPII-/- pI:C","isotype"],"paddingInner":0,"paddingOuter":0}}
  },
  "layer":[
   {"transform":[{"filter":"datum.cond === 'BL6 pI:C'"}],"mark":{"type":"bar","fill":{"expr":"hatchG"},"opacity":1},"encoding":{"y":{"datum":89.5,"type":"quantitative","scale":{"domain":[0,90],"nice":false},"title":"GMFI"},"y2":{"datum":0}}},
   {"transform":[{"filter":"datum.cond === 'TPPII-/- pI:C'"}],"mark":{"type":"bar","fill":{"expr":"dotAG"},"opacity":1},"encoding":{"y":{"datum":89.5,"type":"quantitative","scale":{"domain":[0,90],"nice":false},"title":"GMFI"},"y2":{"datum":0}}},
   {"transform":[{"filter":"datum.cond === 'TPPII-/- pI:C'"}],"mark":{"type":"bar","fill":{"expr":"dotBG"},"opacity":1},"encoding":{"y":{"datum":89.5,"type":"quantitative","scale":{"domain":[0,90],"nice":false},"title":"GMFI"},"y2":{"datum":0}}},
   {"transform":[{"filter":"datum.cond === 'BL6 pI:C' || datum.cond === 'TPPII-/- pI:C'"}],"mark":{"type":"bar","fill":"#fff","stroke":"#fff","strokeWidth":1.2,"opacity":1},"encoding":{"y":{"field":"value","type":"quantitative","scale":{"domain":[0,90],"nice":false},"title":"GMFI"},"y2":{"datum":89.5}}},
   {"mark":{"type":"bar","stroke":"#000","strokeWidth":1,"opacity":1},"encoding":{"y":{"field":"value","type":"quantitative","stack":null,"scale":{"domain":[0,90],"nice":false},"title":"GMFI","axis":{"tickCount":9}},
     "fill":{"field":"cond","type":"nominal","scale":{"domain":["BL6 PBS","TPPII-/- PBS","BL6 pI:C","TPPII-/- pI:C","isotype"],"range":["#fff","#c0c0c0","transparent","transparent","#000"]},"legend":null}}},
   {"transform":[{"filter":"datum.cond !== 'isotype'"}],"mark":{"type":"rule","color":"#000","strokeWidth":1,"opacity":1},"encoding":{"y":{"field":"lo","type":"quantitative","scale":{"domain":[0,90],"nice":false},"title":"GMFI"},"y2":{"field":"hi"}}},
   {"transform":[{"filter":"datum.cond !== 'isotype'"}],"mark":{"type":"tick","color":"#000","thickness":1,"size":10,"opacity":1},"encoding":{"y":{"field":"lo","type":"quantitative","scale":{"domain":[0,90],"nice":false},"title":"GMFI"}}},
   {"transform":[{"filter":"datum.cond !== 'isotype'"}],"mark":{"type":"tick","color":"#000","thickness":1,"size":10,"opacity":1},"encoding":{"y":{"field":"hi","type":"quantitative","scale":{"domain":[0,90],"nice":false},"title":"GMFI"}}},
   {"data":{"name":"Bbr"},"mark":{"type":"line","color":"#000","strokeWidth":1.3,"opacity":1},"encoding":{"y":{"field":"y","type":"quantitative","scale":{"domain":[0,90],"nice":false},"title":"GMFI"},"order":{"field":"ord","type":"quantitative"},"detail":{"field":"id","type":"nominal"}}},
   {"data":{"name":"Bst"},"mark":{"type":"text","text":"*","fontSize":38,"fontWeight":"bold","dx":8.5,"dy":21,"baseline":"alphabetic","color":"#000","opacity":1},"encoding":{"y":{"field":"y","type":"quantitative","scale":{"domain":[0,90],"nice":false},"title":"GMFI"}}},
   {"data":{"values":[{}]},"mark":{"type":"text","text":"B","fontSize":32,"fontWeight":"bold","align":"left","baseline":"alphabetic","dx":-120,"dy":-5,"color":"#000"},"encoding":{"x":{"datum":"B220+CD4-","type":"nominal"},"xOffset":{"datum":"BL6 PBS","type":"nominal"},"y":{"datum":90,"type":"quantitative","scale":{"domain":[0,90],"nice":false},"title":"GMFI"}}},
   {"data":{"values":[{}]},"mark":{"type":"text","text":"H-2Dᵇ","fontSize":22,"align":"center","baseline":"middle","dx":-162,"dy":2,"color":"#000"},"encoding":{"x":{"datum":"B220+CD4-","type":"nominal"},"xOffset":{"datum":"BL6 PBS","type":"nominal"},"y":{"datum":45,"type":"quantitative","scale":{"domain":[0,90],"nice":false},"title":"GMFI"}}}
  ]},
 {"width":344,"height":253,"data":{"name":"E"},
  "encoding":{
   "x":{"field":"group","type":"nominal","sort":["CD11c+","CD11c+CD8+","CD11c+CD8-"],"scale":{"paddingInner":0.227,"paddingOuter":0.1136},"axis":{"tickOffset":-57.33,"labelOffset":57.33},"title":null},
   "xOffset":{"field":"cond","type":"nominal","sort":null,"scale":{"domain":["BL6 PBS","TPPII-/- PBS","BL6 pI:C","TPPII-/- pI:C","isotype"],"paddingInner":0,"paddingOuter":0}}
  },
  "layer":[
   {"transform":[{"filter":"datum.cond === 'BL6 pI:C'"}],"mark":{"type":"bar","fill":{"expr":"hatchG"},"opacity":1},"encoding":{"y":{"datum":397.7,"type":"quantitative","scale":{"domain":[0,400],"nice":false},"title":"GMFI"},"y2":{"datum":0}}},
   {"transform":[{"filter":"datum.cond === 'TPPII-/- pI:C'"}],"mark":{"type":"bar","fill":{"expr":"dotAG"},"opacity":1},"encoding":{"y":{"datum":397.7,"type":"quantitative","scale":{"domain":[0,400],"nice":false},"title":"GMFI"},"y2":{"datum":0}}},
   {"transform":[{"filter":"datum.cond === 'TPPII-/- pI:C'"}],"mark":{"type":"bar","fill":{"expr":"dotBG"},"opacity":1},"encoding":{"y":{"datum":397.7,"type":"quantitative","scale":{"domain":[0,400],"nice":false},"title":"GMFI"},"y2":{"datum":0}}},
   {"transform":[{"filter":"datum.cond === 'BL6 pI:C' || datum.cond === 'TPPII-/- pI:C'"}],"mark":{"type":"bar","fill":"#fff","stroke":"#fff","strokeWidth":1.2,"opacity":1},"encoding":{"y":{"field":"value","type":"quantitative","scale":{"domain":[0,400],"nice":false},"title":"GMFI"},"y2":{"datum":397.7}}},
   {"mark":{"type":"bar","stroke":"#000","strokeWidth":1,"opacity":1},"encoding":{"y":{"field":"value","type":"quantitative","stack":null,"scale":{"domain":[0,400],"nice":false},"title":"GMFI","axis":{"tickCount":8}},
     "fill":{"field":"cond","type":"nominal","scale":{"domain":["BL6 PBS","TPPII-/- PBS","BL6 pI:C","TPPII-/- pI:C","isotype"],"range":["#fff","#c0c0c0","transparent","transparent","#000"]},"legend":null}}},
   {"transform":[{"filter":"datum.cond !== 'isotype'"}],"mark":{"type":"rule","color":"#000","strokeWidth":1,"opacity":1},"encoding":{"y":{"field":"lo","type":"quantitative","scale":{"domain":[0,400],"nice":false},"title":"GMFI"},"y2":{"field":"hi"}}},
   {"transform":[{"filter":"datum.cond !== 'isotype'"}],"mark":{"type":"tick","color":"#000","thickness":1,"size":10,"opacity":1},"encoding":{"y":{"field":"lo","type":"quantitative","scale":{"domain":[0,400],"nice":false},"title":"GMFI"}}},
   {"transform":[{"filter":"datum.cond !== 'isotype'"}],"mark":{"type":"tick","color":"#000","thickness":1,"size":10,"opacity":1},"encoding":{"y":{"field":"hi","type":"quantitative","scale":{"domain":[0,400],"nice":false},"title":"GMFI"}}},
   {"data":{"values":[{}]},"mark":{"type":"text","text":"E","fontSize":32,"fontWeight":"bold","align":"left","baseline":"alphabetic","dx":-112,"dy":18,"color":"#000"},"encoding":{"x":{"datum":"CD11c+","type":"nominal"},"xOffset":{"datum":"BL6 PBS","type":"nominal"},"y":{"datum":400,"type":"quantitative","scale":{"domain":[0,400],"nice":false},"title":"GMFI"}}}
  ]},
 {"width":330,"height":250,"data":{"name":"C"},
  "encoding":{
   "x":{"field":"group","type":"nominal","sort":["B220+CD4-","CD4-CD8+","CD4+CD8-"],"scale":{"paddingInner":0.227,"paddingOuter":0.1136},"axis":{"tickOffset":-55,"labelOffset":55},"title":null},
   "xOffset":{"field":"cond","type":"nominal","sort":null,"scale":{"domain":["BL6 PBS","TPPII-/- PBS","BL6 pI:C","TPPII-/- pI:C","isotype"],"paddingInner":0,"paddingOuter":0}}
  },
  "layer":[
   {"transform":[{"filter":"datum.cond === 'BL6 pI:C'"}],"mark":{"type":"bar","fill":{"expr":"hatchG"},"opacity":1},"encoding":{"y":{"datum":348,"type":"quantitative","scale":{"domain":[0,350],"nice":false},"title":"GMFI"},"y2":{"datum":0}}},
   {"transform":[{"filter":"datum.cond === 'TPPII-/- pI:C'"}],"mark":{"type":"bar","fill":{"expr":"dotAG"},"opacity":1},"encoding":{"y":{"datum":348,"type":"quantitative","scale":{"domain":[0,350],"nice":false},"title":"GMFI"},"y2":{"datum":0}}},
   {"transform":[{"filter":"datum.cond === 'TPPII-/- pI:C'"}],"mark":{"type":"bar","fill":{"expr":"dotBG"},"opacity":1},"encoding":{"y":{"datum":348,"type":"quantitative","scale":{"domain":[0,350],"nice":false},"title":"GMFI"},"y2":{"datum":0}}},
   {"transform":[{"filter":"datum.cond === 'BL6 pI:C' || datum.cond === 'TPPII-/- pI:C'"}],"mark":{"type":"bar","fill":"#fff","stroke":"#fff","strokeWidth":1.2,"opacity":1},"encoding":{"y":{"field":"value","type":"quantitative","scale":{"domain":[0,350],"nice":false},"title":"GMFI"},"y2":{"datum":348}}},
   {"mark":{"type":"bar","stroke":"#000","strokeWidth":1,"opacity":1},"encoding":{"y":{"field":"value","type":"quantitative","stack":null,"scale":{"domain":[0,350],"nice":false},"title":"GMFI","axis":{"tickCount":7}},
     "fill":{"field":"cond","type":"nominal","scale":{"domain":["BL6 PBS","TPPII-/- PBS","BL6 pI:C","TPPII-/- pI:C","isotype"],"range":["#fff","#c0c0c0","transparent","transparent","#000"]},"legend":null}}},
   {"transform":[{"filter":"datum.cond !== 'isotype'"}],"mark":{"type":"rule","color":"#000","strokeWidth":1,"opacity":1},"encoding":{"y":{"field":"lo","type":"quantitative","scale":{"domain":[0,350],"nice":false},"title":"GMFI"},"y2":{"field":"hi"}}},
   {"transform":[{"filter":"datum.cond !== 'isotype'"}],"mark":{"type":"tick","color":"#000","thickness":1,"size":10,"opacity":1},"encoding":{"y":{"field":"lo","type":"quantitative","scale":{"domain":[0,350],"nice":false},"title":"GMFI"}}},
   {"transform":[{"filter":"datum.cond !== 'isotype'"}],"mark":{"type":"tick","color":"#000","thickness":1,"size":10,"opacity":1},"encoding":{"y":{"field":"hi","type":"quantitative","scale":{"domain":[0,350],"nice":false},"title":"GMFI"}}},
   {"data":{"values":[{}]},"mark":{"type":"text","text":"C","fontSize":32,"fontWeight":"bold","align":"left","baseline":"alphabetic","dx":-121,"dy":-44,"color":"#000"},"encoding":{"x":{"datum":"B220+CD4-","type":"nominal"},"xOffset":{"datum":"BL6 PBS","type":"nominal"},"y":{"datum":350,"type":"quantitative","scale":{"domain":[0,350],"nice":false},"title":"GMFI"}}},
   {"data":{"values":[{}]},"mark":{"type":"text","text":"I-Aᵇ","fontSize":22,"align":"center","baseline":"middle","dx":-164,"dy":-19,"color":"#000"},"encoding":{"x":{"datum":"B220+CD4-","type":"nominal"},"xOffset":{"datum":"BL6 PBS","type":"nominal"},"y":{"datum":175,"type":"quantitative","scale":{"domain":[0,350],"nice":false},"title":"GMFI"}}}
  ]},
 {"width":344,"height":251,"data":{"name":"F"},
  "encoding":{
   "x":{"field":"group","type":"nominal","sort":["CD11c+","CD11c+CD8+","CD11c+CD8-"],"scale":{"paddingInner":0.227,"paddingOuter":0.1136},"axis":{"tickOffset":-57.33,"labelOffset":57.33},"title":null},
   "xOffset":{"field":"cond","type":"nominal","sort":null,"scale":{"domain":["BL6 PBS","TPPII-/- PBS","BL6 pI:C","TPPII-/- pI:C","isotype"],"paddingInner":0,"paddingOuter":0}}
  },
  "layer":[
   {"transform":[{"filter":"datum.cond === 'BL6 pI:C'"}],"mark":{"type":"bar","fill":{"expr":"hatchG"},"opacity":1},"encoding":{"y":{"datum":1193,"type":"quantitative","scale":{"domain":[0,1200],"nice":false},"title":"GMFI"},"y2":{"datum":0}}},
   {"transform":[{"filter":"datum.cond === 'TPPII-/- pI:C'"}],"mark":{"type":"bar","fill":{"expr":"dotAG"},"opacity":1},"encoding":{"y":{"datum":1193,"type":"quantitative","scale":{"domain":[0,1200],"nice":false},"title":"GMFI"},"y2":{"datum":0}}},
   {"transform":[{"filter":"datum.cond === 'TPPII-/- pI:C'"}],"mark":{"type":"bar","fill":{"expr":"dotBG"},"opacity":1},"encoding":{"y":{"datum":1193,"type":"quantitative","scale":{"domain":[0,1200],"nice":false},"title":"GMFI"},"y2":{"datum":0}}},
   {"transform":[{"filter":"datum.cond === 'BL6 pI:C' || datum.cond === 'TPPII-/- pI:C'"}],"mark":{"type":"bar","fill":"#fff","stroke":"#fff","strokeWidth":1.2,"opacity":1},"encoding":{"y":{"field":"value","type":"quantitative","scale":{"domain":[0,1200],"nice":false},"title":"GMFI"},"y2":{"datum":1193}}},
   {"mark":{"type":"bar","stroke":"#000","strokeWidth":1,"opacity":1},"encoding":{"y":{"field":"value","type":"quantitative","stack":null,"scale":{"domain":[0,1200],"nice":false},"title":"GMFI","axis":{"tickCount":6}},
     "fill":{"field":"cond","type":"nominal","scale":{"domain":["BL6 PBS","TPPII-/- PBS","BL6 pI:C","TPPII-/- pI:C","isotype"],"range":["#fff","#c0c0c0","transparent","transparent","#000"]},"legend":null}}},
   {"transform":[{"filter":"datum.cond !== 'isotype'"}],"mark":{"type":"rule","color":"#000","strokeWidth":1,"opacity":1},"encoding":{"y":{"field":"lo","type":"quantitative","scale":{"domain":[0,1200],"nice":false},"title":"GMFI"},"y2":{"field":"hi"}}},
   {"transform":[{"filter":"datum.cond !== 'isotype'"}],"mark":{"type":"tick","color":"#000","thickness":1,"size":10,"opacity":1},"encoding":{"y":{"field":"lo","type":"quantitative","scale":{"domain":[0,1200],"nice":false},"title":"GMFI"}}},
   {"transform":[{"filter":"datum.cond !== 'isotype'"}],"mark":{"type":"tick","color":"#000","thickness":1,"size":10,"opacity":1},"encoding":{"y":{"field":"hi","type":"quantitative","scale":{"domain":[0,1200],"nice":false},"title":"GMFI"}}},
   {"data":{"values":[{}]},"mark":{"type":"text","text":"F","fontSize":32,"fontWeight":"bold","align":"left","baseline":"alphabetic","dx":-112,"dy":8,"color":"#000"},"encoding":{"x":{"datum":"CD11c+","type":"nominal"},"xOffset":{"datum":"BL6 PBS","type":"nominal"},"y":{"datum":1200,"type":"quantitative","scale":{"domain":[0,1200],"nice":false},"title":"GMFI"}}}
  ]}
]
}
